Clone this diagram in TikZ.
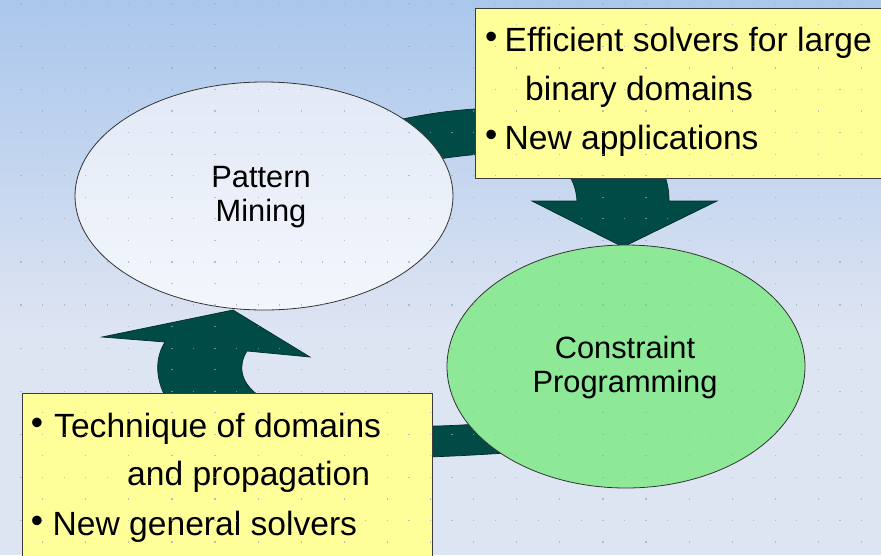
\documentclass[tikz,border=0pt]{standalone}
\usepackage{fontspec}
\setmainfont{Liberation Sans}
\usetikzlibrary{shapes.geometric}
\definecolor{bgtop}{RGB}{170,199,236}
\definecolor{bgbot}{RGB}{221,228,242}
\definecolor{pmtop}{RGB}{226,233,246}
\definecolor{pmbot}{RGB}{243,246,252}
\definecolor{cpfill}{RGB}{141,233,151}
\definecolor{arrowfill}{RGB}{0,75,70}
\definecolor{arrowline}{RGB}{0,45,42}
\definecolor{boxfill}{RGB}{255,255,153}
\definecolor{boxline}{RGB}{60,60,60}
\definecolor{dotcol}{RGB}{160,168,182}
\begin{document}
\begin{tikzpicture}[x=1pt,y=-1pt,
  blockarrow/.style={fill=arrowfill,draw=arrowline,line width=0.7pt,line join=miter},
  topic/.style={ellipse,draw=black!80,line width=0.8pt,inner sep=0pt},
  topictext/.style={inner sep=0pt,align=center,font=\fontsize{30.8}{34}\selectfont},
  notebox/.style={draw=boxline,fill=boxfill,line width=1pt,inner sep=0pt,anchor=north west},
  itemtext/.style={anchor=base west,inner sep=0pt,font=\fontsize{33.6}{40}\selectfont},
  bulletmark/.style={anchor=base west,inner sep=0pt,font=\fontsize{35}{38}\selectfont},
  griddot/.style={fill=dotcol,opacity=0.7}]
\useasboundingbox (0,0) rectangle (881,555);
\clip (0,0) rectangle (881,555);
% background
\fill[bgbot] (0,0) rectangle (881,555);
\shade[top color=bgtop,bottom color=bgbot] (0,0) rectangle (881,330);
% block arrows
\draw[blockarrow] (390,122) .. controls (520,90) and (670,112) .. (669,201)
  -- (717,201) -- (623,247) -- (532,201) -- (577,201)
  .. controls (574,150) and (520,145) .. (420,162) -- cycle;
\draw[blockarrow] (102,337) -- (233,310) -- (310,357) -- (247,351)
  .. controls (238,365) and (240,382) .. (258,395)
  .. controls (300,425) and (400,432) .. (500,422) -- (520,452)
  .. controls (380,462) and (230,465) .. (170,405)
  .. controls (154,380) and (155,358) .. (165,342) -- cycle;
% topics
\node[topic,top color=pmtop,bottom color=pmbot,minimum width=378,minimum height=228]
  (pm) at (264,196) {};
\node[topictext] (pmtext) at (261,197.5) {Pattern\\Mining};
\node[topic,fill=cpfill,minimum width=358,minimum height=243]
  (cp) at (626,366.5) {};
\node[topictext] (cptext) at (625,368) {Constraint\\Programming};
% note boxes
\node[notebox,minimum width=420,minimum height=170] (tbox) at (475,8) {};
\node[notebox,minimum width=410,minimum height=180] (bbox) at (22,393) {};
% top box text
\node[bulletmark] (tb1) at (485,48) {•};
\node[itemtext] (tl1) at (504.4,51) {Efficient solvers for large};
\node[itemtext] (tl2) at (525,100) {binary domains};
\node[bulletmark] (tb2) at (485,146) {•};
\node[itemtext] (tl3) at (504.4,149) {New applications};
% bottom box text
\node[bulletmark] (bb1) at (30.6,434) {•};
\node[itemtext] (bl1) at (54,437) {Technique of domains};
\node[itemtext] (bl2) at (127,485.5) {and propagation};
\node[bulletmark] (bb2) at (30.6,532.5) {•};
\node[itemtext] (bl3) at (52.5,535.5) {New general solvers};
% grid dots
\foreach \r in {0,2,...,24} {\foreach \c in {0,...,41} {
  \fill[griddot] ({-1.1+21.55*\c},{2.7+21.55*\r}) rectangle ++(1.2,1.2);}}
\foreach \r in {1,3,...,25} {\foreach \c in {0,2,...,40} {
  \fill[griddot] ({-1.1+21.55*\c},{2.7+21.55*\r}) rectangle ++(1.2,1.2);}}
\end{tikzpicture}
\end{document}
